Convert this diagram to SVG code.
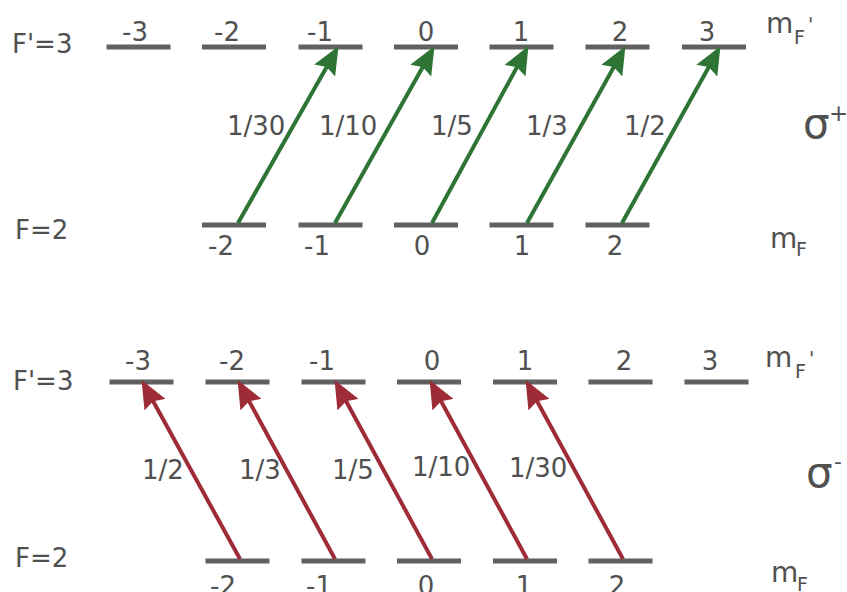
<svg xmlns="http://www.w3.org/2000/svg" width="847" height="592" viewBox="0 0 847 592">
<style>
.t{font-family:"DejaVu Sans","Verdana",sans-serif;font-size:26px;fill:#505050}
.m{text-anchor:middle}
.mm{font-size:28px}
.sub{font-size:19px}
.sig{font-size:42px}
.bar{fill:#616161}
.g{stroke:#2e7434;stroke-width:4;fill:none}
.r{stroke:#9e2c38;stroke-width:4;fill:none}
</style>
<defs>
<marker id="ag" viewBox="0 0 28 24" markerWidth="28" markerHeight="24" refX="15" refY="12" orient="auto" markerUnits="userSpaceOnUse"><path d="M0,0 L28,12 L0,24 L4,12 z" fill="#2e7434"/></marker>
<marker id="ar" viewBox="0 0 28 24" markerWidth="28" markerHeight="24" refX="15" refY="12" orient="auto" markerUnits="userSpaceOnUse"><path d="M0,0 L28,12 L0,24 L4,12 z" fill="#9e2c38"/></marker>
</defs>
<rect width="847" height="592" fill="#fff"/>

<!-- top panel (sigma+) -->
<g id="top-Fp3">
<text class="t" x="12" y="53">F'=3</text>
<rect class="bar" x="106.5" y="44.5" width="64" height="5"/><text class="t m" x="135" y="41">-3</text>
<rect class="bar" x="202" y="44.5" width="64" height="5"/><text class="t m" x="227" y="41">-2</text>
<rect class="bar" x="298.5" y="44.5" width="64" height="5"/><text class="t m" x="320" y="41">-1</text>
<rect class="bar" x="394" y="44.5" width="64" height="5"/><text class="t m" x="426" y="41">0</text>
<rect class="bar" x="489.5" y="44.5" width="64" height="5"/><text class="t m" x="521" y="41">1</text>
<rect class="bar" x="585.5" y="44.5" width="64" height="5"/><text class="t m" x="620" y="41">2</text>
<rect class="bar" x="682" y="44.5" width="64" height="5"/><text class="t m" x="707" y="41">3</text>
<text class="t mm" x="766" y="33">m</text><text class="t sub" x="794" y="44">F</text><text class="t sub" x="808" y="31">'</text>
</g>
<g id="top-F2">
<text class="t" x="15" y="239">F=2</text>
<rect class="bar" x="202" y="222.5" width="64" height="5"/><text class="t m" x="221" y="255">-2</text>
<rect class="bar" x="298.5" y="222.5" width="64" height="5"/><text class="t m" x="317" y="255">-1</text>
<rect class="bar" x="394" y="222.5" width="64" height="5"/><text class="t m" x="422" y="255">0</text>
<rect class="bar" x="489.5" y="222.5" width="64" height="5"/><text class="t m" x="522" y="255">1</text>
<rect class="bar" x="585.5" y="222.5" width="64" height="5"/><text class="t m" x="615" y="255">2</text>
<text class="t mm" x="770" y="248">m</text><text class="t sub" x="796" y="256">F</text>
</g>
<g id="sigma-plus">
<text class="t sig" x="803" y="138">σ</text><text class="t" x="829" y="121" style="font-size:23px">+</text>
</g>

<!-- bottom panel (sigma-) -->
<g id="bot-Fp3">
<text class="t" x="13" y="390">F'=3</text>
<rect class="bar" x="109.5" y="379.5" width="64" height="5"/><text class="t m" x="138" y="370">-3</text>
<rect class="bar" x="205.5" y="379.5" width="64" height="5"/><text class="t m" x="232" y="370">-2</text>
<rect class="bar" x="301.5" y="379.5" width="64" height="5"/><text class="t m" x="322" y="370">-1</text>
<rect class="bar" x="397" y="379.5" width="64" height="5"/><text class="t m" x="432" y="370">0</text>
<rect class="bar" x="493" y="379.5" width="64" height="5"/><text class="t m" x="525" y="370">1</text>
<rect class="bar" x="588.5" y="379.5" width="64" height="5"/><text class="t m" x="624" y="370">2</text>
<rect class="bar" x="684.5" y="379.5" width="64" height="5"/><text class="t m" x="710" y="370">3</text>
<text class="t mm" x="765" y="367">m</text><text class="t sub" x="795" y="378">F</text><text class="t sub" x="809" y="365">'</text>
</g>
<g id="bot-F2">
<text class="t" x="15" y="567">F=2</text>
<rect class="bar" x="205.5" y="558.5" width="64" height="5"/><text class="t m" x="223" y="595">-2</text>
<rect class="bar" x="301.5" y="558.5" width="64" height="5"/><text class="t m" x="319" y="595">-1</text>
<rect class="bar" x="397" y="558.5" width="64" height="5"/><text class="t m" x="426" y="595">0</text>
<rect class="bar" x="493" y="558.5" width="64" height="5"/><text class="t m" x="524" y="595">1</text>
<rect class="bar" x="588.5" y="558.5" width="64" height="5"/><text class="t m" x="617" y="595">2</text>
<text class="t mm" x="771" y="582">m</text><text class="t sub" x="797" y="591">F</text>
</g>
<g id="sigma-minus">
<text class="t sig" x="806" y="487">σ</text><text class="t" x="834" y="469" style="font-size:22px">-</text>
</g>

<!-- connectors -->
<g id="connectors">
<path class="g" d="M238,223 L332.1,57.5" marker-end="url(#ag)"/>
<path class="g" d="M335,223 L428.1,57.5" marker-end="url(#ag)"/>
<path class="g" d="M432,223 L522.2,57.5" marker-end="url(#ag)"/>
<path class="g" d="M527,223 L619.1,57.5" marker-end="url(#ag)"/>
<path class="g" d="M622,223 L714.1,57.5" marker-end="url(#ag)"/>
<path class="r" d="M240,559 L147.8,391.5" marker-end="url(#ar)"/>
<path class="r" d="M335,559 L243.8,391.5" marker-end="url(#ar)"/>
<path class="r" d="M432,559 L340.8,391.5" marker-end="url(#ar)"/>
<path class="r" d="M527,559 L435.8,391.5" marker-end="url(#ar)"/>
<path class="r" d="M623,559 L531.8,391.5" marker-end="url(#ar)"/>
<text class="t" x="227" y="135">1/30</text>
<text class="t" x="319" y="135">1/10</text>
<text class="t" x="431" y="135">1/5</text>
<text class="t" x="526" y="135">1/3</text>
<text class="t" x="624" y="135">1/2</text>
<text class="t" x="142" y="479">1/2</text>
<text class="t" x="239" y="479">1/3</text>
<text class="t" x="332" y="479">1/5</text>
<text class="t" x="412" y="476">1/10</text>
<text class="t" x="509" y="477">1/30</text>
</g>
</svg>
